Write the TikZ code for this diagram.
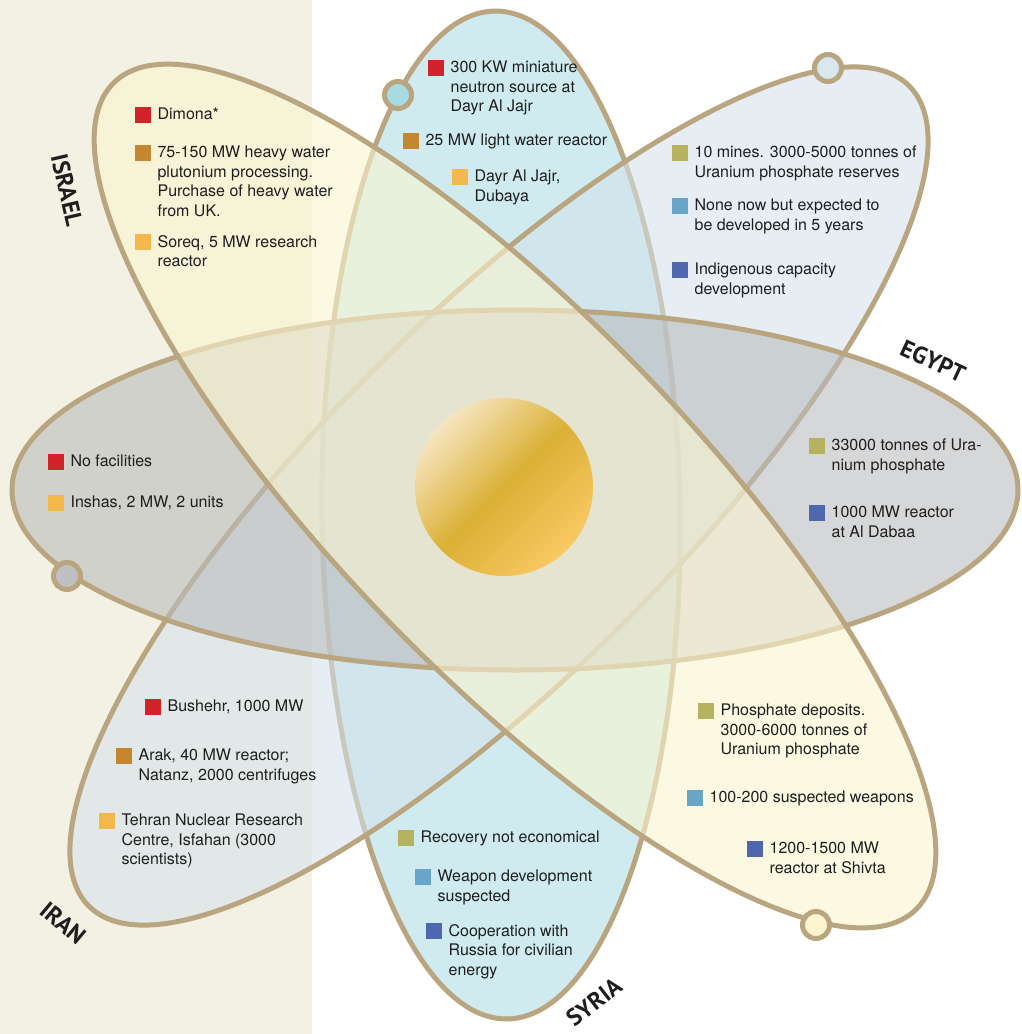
\documentclass[tikz,border=0pt]{standalone}
\usepackage{fontspec}
\setmainfont{TeX Gyre Heros}
\newfontfamily\countryfont{PT Sans}
\usepackage{tikz}
\usetikzlibrary{positioning}
\definecolor{atomPaper}{HTML}{F3F1E3}
\definecolor{atomOrbit}{HTML}{B9A580}
\definecolor{atomInk}{HTML}{1E1E1E}
\definecolor{atomSyria}{HTML}{CFEBEF}
\definecolor{atomIran}{HTML}{D4E2EB}
\definecolor{atomEgypt}{HTML}{BBBCBE}
\definecolor{atomIsrael}{HTML}{FAF5D0}
\definecolor{ringSyria}{HTML}{A8DCE3}
\definecolor{ringIran}{HTML}{D9E7EE}
\definecolor{ringEgypt}{HTML}{BFC0C2}
\definecolor{ringIsrael}{HTML}{FCF5D0}
\definecolor{keyRed}{HTML}{D2232A}
\definecolor{keyBrown}{HTML}{C4862F}
\definecolor{keyAmber}{HTML}{F2B84B}
\definecolor{keyOlive}{HTML}{B5B35F}
\definecolor{keySky}{HTML}{67A6C9}
\definecolor{keyBlue}{HTML}{4F67AE}
\definecolor{nucCream}{HTML}{F7E5C0}
\definecolor{nucGold}{HTML}{DBB036}
\definecolor{nucSun}{HTML}{F9C962}
\tikzset{
  atom diagram/.style={x=1pt, y=-1pt, text=atomInk, line join=round},
  atom orbit/.style={draw=atomOrbit, line width=5pt},
  atom ring/.style={circle, draw=atomOrbit, line width=5pt,
    minimum size=27pt, inner sep=0pt},
  atom key/.style={rectangle, minimum size=16pt, inner sep=0pt,
    anchor=north west},
  atom text/.style={font=\fontsize{16}{19.5}\selectfont, align=left,
    inner sep=0pt},
  atom country/.style={font=\countryfont\bfseries\fontsize{24}{24}\selectfont,
    inner sep=0pt}
}

\begin{document}
\begin{tikzpicture}[atom diagram]
\useasboundingbox (0,0) rectangle (1021,1034);
\fill[atomPaper] (0,0) rectangle (312,1034);
\draw[atom orbit, fill=atomSyria, rotate around={0.7:(501,515)}]
  (501,515) ellipse [x radius=179, y radius=504];
\draw[atom orbit, fill=atomIran, fill opacity=0.58, rotate around={45:(499,496)}]
  (499,496) ellipse [x radius=580, y radius=178];
\draw[atom orbit, fill=atomEgypt, fill opacity=0.6]
  (515,490) ellipse [x radius=503, y radius=180];
\draw[atom orbit, fill=atomIsrael, fill opacity=0.6, rotate around={-45.9:(515,496)}]
  (515,496) ellipse [x radius=576, y radius=178];
\node[circle, minimum size=178pt, inner sep=0pt, top color=nucCream,
  bottom color=nucSun, middle color=nucGold, shading angle=45] (nucleus) at (504,487) {};
\node[atom ring, fill=ringSyria] (syriaring) at (398,95) {};
\node[atom ring, fill=ringIran] (iranring) at (828,68) {};
\node[atom ring, fill=ringEgypt] (egyptring) at (67,576) {};
\node[atom ring, fill=ringIsrael] (israelring) at (816,925) {};
\foreach \nm/\col/\x/\y/\txt in {
  isr1/keyRed/135/107/{Dimona*},
  isr2/keyBrown/135/145/{75-150 MW heavy water\\plutonium processing.\\Purchase of heavy water\\from UK.},
  isr3/keyAmber/135/234/{Soreq, 5 MW research\\reactor},
  isr4/keyOlive/698/703/{Phosphate deposits.\\3000-6000 tonnes of\\Uranium phosphate},
  isr5/keySky/687/790/{100-200 suspected weapons},
  isr6/keyBlue/747/841/{1200-1500 MW\\reactor at Shivta},
  syr1/keyRed/428/60/{300 KW miniature\\neutron source at\\Dayr Al Jajr},
  syr2/keyBrown/403/133/{25 MW light water reactor},
  syr3/keyAmber/452/169/{Dayr Al Jajr,\\Dubaya},
  syr4/keyOlive/398/830/{Recovery not economical},
  syr5/keySky/415/869/{Weapon development\\suspected},
  syr6/keyBlue/426/923/{Cooperation with\\Russia for civilian\\energy},
  irn1/keyOlive/672/145/{10 mines. 3000-5000 tonnes of\\Uranium phosphate reserves},
  irn2/keySky/672/198/{None now but expected to\\be developed in 5 years},
  irn3/keyBlue/672/262/{Indigenous capacity\\development},
  irn4/keyRed/145/699/{Bushehr, 1000 MW},
  irn5/keyBrown/116/748/{Arak, 40 MW reactor;\\Natanz, 2000 centrifuges},
  irn6/keyAmber/99/813/{Tehran Nuclear Research\\Centre, Isfahan (3000\\scientists)},
  egy1/keyRed/48/454/{No facilities},
  egy2/keyAmber/48/495/{Inshas, 2 MW, 2 units},
  egy3/keyOlive/809/438/{33000 tonnes of Ura-\\nium phosphate},
  egy4/keyBlue/809/505/{1000 MW reactor\\at Al Dabaa}}{
  \node[atom key, fill=\col] (\nm) at (\x,\y) {};
  \node[atom text, right=6pt of \nm.north east, anchor=north west, yshift=-1pt] (\nm t) {\txt};
}
\node[atom country, rotate=-77] (israel) at (67,190) {ISRAEL};
\node[atom country, rotate=-25] (egypt) at (933,361) {EGYPT};
\node[atom country, rotate=38] (syria) at (594,1002) {SYRIA};
\node[atom country, rotate=-40] (iran) at (63,923) {IRAN};
\end{tikzpicture}
\end{document}
